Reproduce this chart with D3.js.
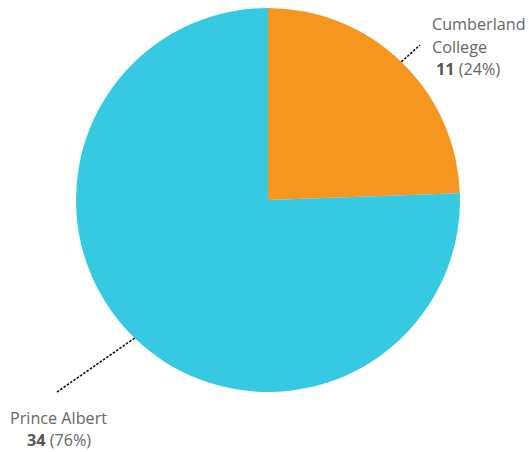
<!DOCTYPE html>
<html><head><meta charset="utf-8">
<script src="https://cdn.jsdelivr.net/npm/d3@7"></script>
<style>body{margin:0;background:#fff}</style>
</head><body>
<script>
const categories = ["Cumberland College", "Prince Albert"];
const values = [11, 34];
const colors = ["#F7961F", "#35CAE2"];
const labelLines = [["Cumberland", "College"], ["Prince Albert"]];

const W = 529, H = 452, cx = 268, cy = 200, R = 192;
const svg = d3.select("body").append("svg").attr("width", W).attr("height", H)
  .style("font-family", "'Open Sans', sans-serif");
const total = d3.sum(values);
const data = categories.map((c, i) => ({cat: c, value: values[i], color: colors[i], lines: labelLines[i]}));
const pie = d3.pie().value(d => d.value).sort(null);
const arcs = pie(data);
const arc = d3.arc().innerRadius(0).outerRadius(R);
const g = svg.append("g").attr("transform", `translate(${cx},${cy})`);
g.selectAll("path").data(arcs).join("path").attr("d", arc).attr("fill", d => d.data.color);

const layouts = [
  {ex: 420, ey: 45, tx: 432, ty: 30, anchor: "start", vx: 436, lh: 22.5},
  {ex: 57, ey: 392, tx: 58.5, ty: 424, anchor: "middle", vx: 59, lh: 21.5}
];
const edge = d3.arc().innerRadius(R).outerRadius(R);
const fs = "16.2px";
arcs.forEach((a, i) => {
  const L = layouts[i];
  const [sx, sy] = edge.centroid(a);
  svg.append("line").attr("x1", cx + sx).attr("y1", cy + sy).attr("x2", L.ex).attr("y2", L.ey)
    .attr("stroke", "#111").attr("stroke-width", 1.6).attr("stroke-dasharray", "2.5,1.5");
  const lines = a.data.lines;
  lines.forEach((t, k) => {
    svg.append("text").attr("x", L.tx).attr("y", L.ty + k * L.lh).attr("text-anchor", L.anchor)
      .attr("fill", "#666").style("font-size", fs).text(t);
  });
  const vt = svg.append("text").attr("x", L.vx).attr("y", L.ty + lines.length * L.lh)
    .attr("text-anchor", L.anchor).attr("fill", "#666").style("font-size", fs);
  vt.append("tspan").style("font-weight", "bold").attr("fill", "#555").text(a.data.value);
  vt.append("tspan").text(" (" + Math.round(a.data.value / total * 100) + "%)");
});
</script>
</body></html>
